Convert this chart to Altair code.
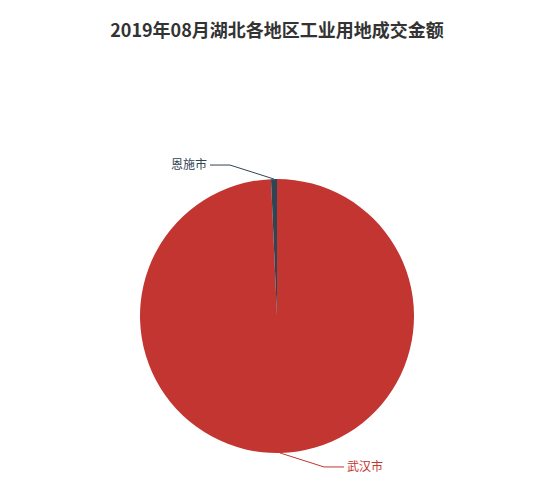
import altair as alt
import pandas as pd

# ---- data ----
cities = ["武汉市", "恩施市"]
amounts = [141600.0, 1000.0]      # 成交金额 (万元)
order_idx = [0, 1]
colors = ["#c23531", "#2f4554"]
title_text = "2019年08月湖北各地区工业用地成交金额"

df = pd.DataFrame({"city": cities, "amount": amounts, "idx": order_idx})

# ---- layout (pie centre / radius in plot pixels) ----
CX, CY, R = 264, 271, 137
FONT = "Noto Sans CJK SC"

color_scale = alt.Scale(domain=cities, range=colors)
col = alt.Color("city:N", scale=color_scale, legend=None)

base = alt.Chart(df)

pie = base.mark_arc(outerRadius=R).encode(
    theta=alt.Theta("amount:Q", stack=True),
    color=col,
    order=alt.Order("idx:Q"),
    x=alt.value(CX),
    y=alt.value(CY),
)

geo = (
    base.transform_window(cum="sum(amount)", sort=[alt.SortField("idx")], frame=[None, 0])
    .transform_joinaggregate(total="sum(amount)")
    .transform_calculate(mid="(datum.cum - datum.amount/2) / datum.total * 2 * PI")
    .transform_calculate(
        side="sin(datum.mid) >= 0 ? 1 : -1",
        ex=f"{CX} + {R} * sin(datum.mid)",
        ey=f"{CY} - {R} * cos(datum.mid)",
    )
    .transform_calculate(
        bx="datum.ex + datum.side * 44",
        by="datum.ey - cos(datum.mid) * 14",
    )
    .transform_calculate(
        tx="datum.bx + datum.side * 20",
        lx="datum.bx + datum.side * 23",
    )
)

def X(f):
    return alt.X(f, type="quantitative", scale=None, axis=None)

def Y(f):
    return alt.Y(f, type="quantitative", scale=None, axis=None)

seg1 = geo.mark_rule(strokeWidth=1).encode(x=X("ex"), y=Y("ey"), x2="bx:Q", y2="by:Q", color=col)
seg2 = geo.mark_rule(strokeWidth=1).encode(x=X("bx"), y=Y("by"), x2="tx:Q", y2="by:Q", color=col)

lab_left = geo.transform_filter("datum.side < 0").mark_text(
    align="right", baseline="middle", font=FONT, fontSize=12
).encode(x=X("lx"), y=Y("by"), text="city:N", color=col)

lab_right = geo.transform_filter("datum.side > 0").mark_text(
    align="left", baseline="middle", font=FONT, fontSize=12
).encode(x=X("lx"), y=Y("by"), text="city:N", color=col)

chart = (
    alt.layer(pie, seg1, seg2, lab_left, lab_right)
    .properties(
        width=524,
        height=420,
        padding={"top": 15, "left": 5, "right": 5, "bottom": 5},
        title=alt.TitleParams(
            title_text,
            fontSize=18,
            font=FONT,
            fontWeight="bold",
            color="#333333",
            anchor="middle",
            dx=2,
        ),
    )
    .configure_view(stroke=None)
)

chart.save("out.html", embed_options={"renderer": "svg", "actions": False})
